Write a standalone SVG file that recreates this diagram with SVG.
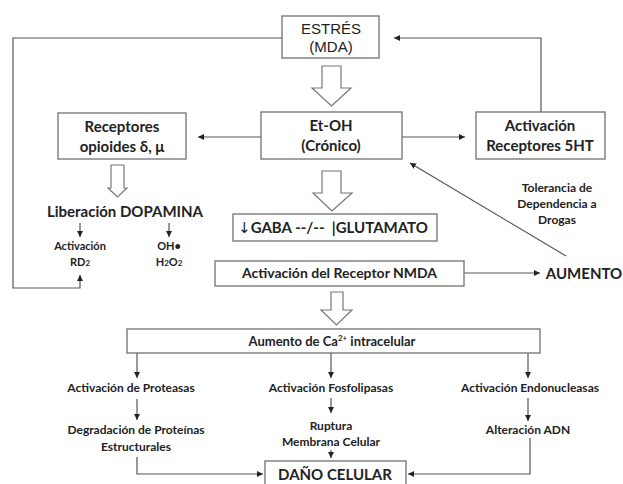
<svg xmlns="http://www.w3.org/2000/svg" width="623" height="484" viewBox="0 0 623 484">
<defs>
<marker id="ah" viewBox="0 0 10 10" refX="10" refY="5" markerWidth="6" markerHeight="6" markerUnits="userSpaceOnUse" orient="auto"><path d="M0,0 L10,5 L0,10 z" fill="#222"/></marker>
<style>
.box{fill:#fff;stroke:#707070;stroke-width:1.3}
.ln{fill:none;stroke:#555;stroke-width:1.2}
.arr{fill:none;stroke:#555;stroke-width:1.2;marker-end:url(#ah)}
.hol{fill:#fff;stroke:#777;stroke-width:1.2}
text{font-family:Lato,"Liberation Sans",sans-serif;font-weight:bold;fill:#222;text-anchor:middle}
.t15{font-size:15px}
.t14{font-size:14px}
.t13{font-size:13px}
.t12{font-size:12px}
.t11{font-size:11px}
.ar{font-family:"Liberation Sans",Arial,sans-serif;font-weight:normal;font-size:15px}
</style>
</defs>
<rect width="623" height="484" fill="#fff"/>
<g id="connectors">
<polyline class="ln" points="282,38 13,38 13,288 80,288 80,275" style="marker-end:url(#ah)"/>
<polyline class="arr" points="541,112 541,38 394,38"/>
<line class="arr" x1="261" y1="137" x2="198" y2="137"/>
<line class="arr" x1="402" y1="137" x2="465" y2="137"/>
<line class="arr" x1="80" y1="223" x2="80" y2="237"/>
<line class="arr" x1="169" y1="223" x2="169" y2="237"/>
<line class="arr" x1="464" y1="273" x2="540" y2="273"/>
<line class="arr" x1="566" y1="256" x2="410" y2="163"/>
<line class="arr" x1="137" y1="353" x2="137" y2="378"/>
<line class="arr" x1="331" y1="353" x2="331" y2="378"/>
<line class="arr" x1="528" y1="353" x2="528" y2="378"/>
<line class="arr" x1="137" y1="399" x2="137" y2="420"/>
<line class="arr" x1="331" y1="398" x2="331" y2="413"/>
<line class="arr" x1="528" y1="398" x2="528" y2="421"/>
<line class="arr" x1="331" y1="450" x2="331" y2="458"/>
<polyline class="arr" points="137,457 137,474 263,474"/>
<polyline class="arr" points="530,438 530,474 408,474"/>
<path class="hol" d="M322,66 H341 V88 H351 L331.5,106 L312,88 H322 Z"/>
<path class="hol" d="M111,165 H124 V188 H127 L117.5,197 L108,188 H111 Z"/>
<path class="hol" d="M322,171 H341 V193 H352 L332,211 L313,193 H322 Z"/>
<path class="hol" d="M331,292 H343 V310 H352 L336.5,325 L321,310 H331 Z"/>
</g>
<g id="estres">
<rect class="box" x="282" y="16" width="97" height="42"/>
<text class="ar" x="331" y="34">ESTRÉS</text>
<text class="ar" x="331" y="52">(MDA)</text>
</g>
<g id="etoh">
<rect class="box" x="261" y="112" width="141" height="47"/>
<text class="t15" x="331" y="131" font-size="16">Et-OH</text>
<text class="t15" x="331" y="151">(Crónico)</text>
</g>
<g id="opioides">
<rect class="box" x="58" y="113" width="128" height="46"/>
<text class="t15" x="122" y="132">Receptores</text>
<text class="t15" x="122" y="152">opioides δ, μ</text>
</g>
<g id="r5ht">
<rect class="box" x="476" y="112" width="129" height="47"/>
<text class="t15" x="540" y="131">Activación</text>
<text class="t15" x="540" y="151">Receptores 5HT</text>
</g>
<g id="dopamina">
<text class="t15" x="125" y="217">Liberación DOPAMINA</text>
</g>
<g id="rd2">
<text class="t11" x="80" y="250">Activación</text>
<text class="t11" x="80" y="266">RD<tspan font-size="8">2</tspan></text>
</g>
<g id="oh">
<text class="t11" x="169" y="250">OH•</text>
<text class="t11" x="169" y="266">H<tspan font-size="8">2</tspan>O<tspan font-size="8">2</tspan></text>
</g>
<g id="gaba">
<rect class="box" x="233" y="214" width="204" height="27"/>
<text class="t15" x="333" y="233"><tspan font-family="DejaVu Sans" font-weight="normal">↓</tspan>GABA --/--&#160;&#160;|GLUTAMATO</text>
</g>
<g id="nmda">
<rect class="box" x="215" y="261" width="249" height="25"/>
<text class="t14" x="339.5" y="278">Activación del Receptor NMDA</text>
</g>
<g id="aumento">
<text class="t15" x="584" y="279">AUMENTO</text>
</g>
<g id="tolerancia">
<text class="t12" x="557" y="192">Tolerancia de</text>
<text class="t12" x="557" y="208">Dependencia a</text>
<text class="t12" x="557" y="224">Drogas</text>
</g>
<g id="calcio">
<rect class="box" x="127" y="329" width="413" height="24"/>
<text class="t13" x="332" y="346">Aumento de Ca<tspan font-size="8" dy="-5">2+</tspan><tspan dy="5"> intracelular</tspan></text>
</g>
<g id="proteasas">
<text class="t12" x="131" y="392">Activación de Proteasas</text>
</g>
<g id="fosfolipasas">
<text class="t12" x="331" y="392">Activación Fosfolipasas</text>
</g>
<g id="endonucleasas">
<text class="t12" x="530" y="392" font-size="12.5">Activación Endonucleasas</text>
</g>
<g id="degradacion">
<text class="t12" x="136" y="434">Degradación de Proteínas</text>
<text class="t12" x="136" y="451">Estructurales</text>
</g>
<g id="ruptura">
<text class="t12" x="331" y="430">Ruptura</text>
<text class="t12" x="331" y="446">Membrana Celular</text>
</g>
<g id="adn">
<text class="t12" x="528" y="434">Alteración ADN</text>
</g>
<g id="dano">
<rect class="box" x="265" y="461" width="141" height="32"/>
<text class="t15" x="335" y="480" font-size="16">DAÑO CELULAR</text>
</g>
</svg>
